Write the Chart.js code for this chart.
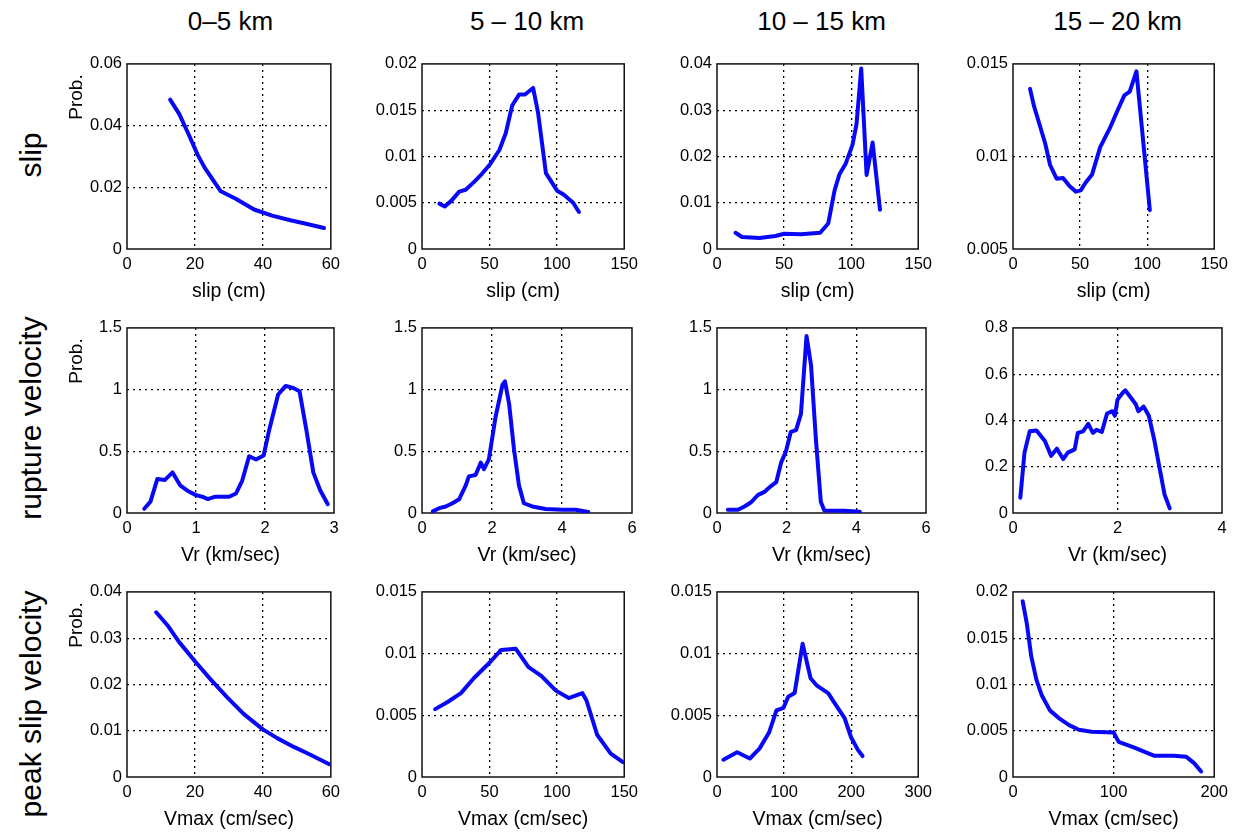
<!DOCTYPE html>
<html>
<head>
<meta charset="utf-8">
<script src="https://cdn.jsdelivr.net/npm/chart.js@4/dist/chart.umd.min.js"></script>
<style>
  html, body { margin: 0; padding: 0; background: #fff; }
  #fig { position: relative; width: 1245px; height: 833px; overflow: hidden; font-family: "Liberation Sans", Arial, sans-serif; color: #000; }
  #fig canvas { position: absolute; }
  .coltitle { position: absolute; top: 6px; font-size: 26px; text-align: center; width: 240px; white-space: nowrap; }
  .rowlabel { position: absolute; font-size: 30px; white-space: nowrap; transform: translate(-50%, -50%) rotate(-90deg); }
  .ylab { position: absolute; font-size: 19px; white-space: nowrap; transform: translate(-50%, -50%) rotate(-90deg); }
</style>
</head>
<body>
<div id="fig"></div>
<script>
// ---- distance bins and parameters ----
const binTitles = ['0–5 km', '5 – 10 km', '10 – 15 km', '15 – 20 km'];
const rowNames = ['slip', 'rupture velocity', 'peak slip velocity'];
const xTitles = ['slip (cm)', 'Vr (km/sec)', 'Vmax (cm/sec)'];

// ---- slip ----
const slip0to5X = [12.7, 15.4, 18.3, 20.8, 22.9, 27.6, 32.0, 37.4, 42.7, 48.1, 53.0, 58.0];
const slip0to5Y = [0.0484, 0.0437, 0.0368, 0.0305, 0.0263, 0.0187, 0.0163, 0.0128, 0.0108, 0.0093, 0.0081, 0.0068];
const slip5to10X = [12.9, 16.9, 21.7, 27.6, 32.4, 38.3, 44.3, 50.2, 57.4, 62.1, 66.9, 72.1, 76.4, 82.4, 86.0, 91.9, 100.2, 105, 112.1, 116.4];
const slip5to10Y = [0.0049, 0.0046, 0.0052, 0.0062, 0.0064, 0.0072, 0.0081, 0.0091, 0.0107, 0.0125, 0.0155, 0.0167, 0.0167, 0.0174, 0.0148, 0.0082, 0.0063, 0.0059, 0.0050, 0.0040];
const slip10to15X = [13.8, 18.6, 31.7, 43.6, 50, 62.6, 76.9, 82.9, 87.6, 91.2, 96, 101, 104, 107.5, 111.5, 116, 121.5];
const slip10to15Y = [0.0035, 0.0026, 0.0024, 0.0028, 0.0033, 0.0032, 0.0035, 0.0055, 0.0126, 0.0161, 0.0185, 0.0225, 0.027, 0.039, 0.016, 0.023, 0.0085];
const slip15to20X = [12.7, 15.6, 20.4, 24.0, 27.6, 32.5, 37.3, 42.1, 46.9, 50.5, 54.1, 58.9, 65, 72, 78, 83, 87, 92, 102];
const slip15to20Y = [0.01365, 0.01273, 0.01158, 0.0107, 0.00955, 0.0088, 0.00884, 0.0084, 0.0081, 0.00817, 0.00858, 0.00902, 0.0105, 0.0115, 0.0125, 0.0133, 0.0135, 0.0146, 0.0071];

// ---- rupture velocity ----
const vr0to5X = [0.25, 0.34, 0.44, 0.55, 0.66, 0.77, 0.89, 1.0, 1.09, 1.17, 1.28, 1.48, 1.58, 1.67, 1.77, 1.87, 1.98, 2.06, 2.19, 2.3, 2.41, 2.5, 2.6, 2.7, 2.8, 2.91];
const vr0to5Y = [0.034, 0.092, 0.276, 0.268, 0.329, 0.224, 0.176, 0.145, 0.132, 0.113, 0.132, 0.132, 0.158, 0.263, 0.46, 0.434, 0.466, 0.671, 0.96, 1.03, 1.013, 0.987, 0.671, 0.329, 0.184, 0.071];
const vr5to10X = [0.31, 0.49, 0.68, 0.87, 1.06, 1.25, 1.34, 1.53, 1.68, 1.77, 1.91, 2.1, 2.3, 2.37, 2.49, 2.63, 2.77, 2.91, 3.15, 3.53, 4.01, 4.39, 4.75];
const vr5to10Y = [0.013, 0.039, 0.053, 0.079, 0.111, 0.224, 0.297, 0.308, 0.408, 0.355, 0.434, 0.776, 1.039, 1.066, 0.882, 0.513, 0.224, 0.079, 0.053, 0.032, 0.026, 0.026, 0.008];
const vr10to15X = [0.31, 0.6, 0.79, 0.98, 1.17, 1.36, 1.55, 1.7, 1.84, 1.98, 2.12, 2.27, 2.41, 2.57, 2.7, 2.84, 2.98, 3.08, 3.65, 4.1];
const vr10to15Y = [0.026, 0.026, 0.053, 0.087, 0.145, 0.171, 0.218, 0.25, 0.408, 0.5, 0.658, 0.671, 0.803, 1.434, 1.197, 0.592, 0.092, 0.021, 0.018, 0.01];
const vr15to20X = [0.14, 0.22, 0.32, 0.45, 0.61, 0.73, 0.84, 0.96, 1.05, 1.18, 1.24, 1.34, 1.44, 1.53, 1.6, 1.7, 1.8, 1.9, 1.95, 2.0, 2.1, 2.15, 2.25, 2.35, 2.4, 2.5, 2.6, 2.7, 2.8, 2.9, 3.0];
const vr15to20Y = [0.066, 0.261, 0.353, 0.357, 0.311, 0.247, 0.278, 0.233, 0.261, 0.275, 0.346, 0.353, 0.385, 0.346, 0.36, 0.35, 0.43, 0.44, 0.42, 0.49, 0.52, 0.53, 0.5, 0.47, 0.44, 0.46, 0.42, 0.32, 0.2, 0.08, 0.02];

// ---- peak slip velocity ----
const vmax0to5X = [8.6, 11.9, 15.3, 20.0, 24.6, 29.5, 34.4, 40.0, 44.2, 49.1, 54.0, 59.4];
const vmax0to5Y = [0.0356, 0.0328, 0.0292, 0.025, 0.0211, 0.0172, 0.0136, 0.0103, 0.0084, 0.0065, 0.0048, 0.0028];
const vmax5to10X = [9.8, 19.3, 28.9, 38.4, 50.4, 58.7, 69.5, 79.0, 88.5, 99.3, 108.8, 118.9, 122, 130, 140, 149];
const vmax5to10Y = [0.0055, 0.0061, 0.0068, 0.0080, 0.0093, 0.0103, 0.0104, 0.0089, 0.0082, 0.0070, 0.0064, 0.0068, 0.0062, 0.0034, 0.0019, 0.0012];
const vmax10to15X = [9.5, 30, 49, 63.3, 77.6, 88.6, 99, 106.2, 115.7, 127.6, 139.5, 149, 165.7, 177.6, 190, 200, 210, 217];
const vmax10to15Y = [0.0014, 0.0020, 0.0015, 0.0023, 0.0036, 0.0054, 0.0056, 0.0065, 0.0068, 0.0108, 0.0080, 0.0074, 0.0068, 0.0058, 0.0048, 0.0032, 0.0022, 0.0017];
const vmax15to20X = [9.6, 13.7, 18.2, 23.3, 28.7, 36.7, 46.3, 55.8, 65.4, 78.1, 100, 105, 120, 140, 160, 172, 180, 187];
const vmax15to20Y = [0.019, 0.0166, 0.013, 0.0105, 0.0088, 0.0072, 0.0063, 0.0056, 0.0051, 0.0049, 0.0048, 0.0038, 0.0032, 0.0023, 0.0023, 0.0022, 0.0015, 0.0006];

// ---- tick labels ----
const slipXTicks0to5 = [0, 20, 40, 60];
const slipXTicks = [0, 50, 100, 150];
const slipYTicks0to5 = [0, 0.02, 0.04, 0.06];
const slipYTicks5to10 = [0, 0.005, 0.01, 0.015, 0.02];
const slipYTicks10to15 = [0, 0.01, 0.02, 0.03, 0.04];
const slipYTicks15to20 = [0.005, 0.01, 0.015];
const vrXTicks0to5 = [0, 1, 2, 3];
const vrXTicks = [0, 2, 4, 6];
const vrXTicks15to20 = [0, 2, 4];
const vrYTicks = [0, 0.5, 1, 1.5];
const vrYTicks15to20 = [0, 0.2, 0.4, 0.6, 0.8];
const vmaxXTicks0to5 = [0, 20, 40, 60];
const vmaxXTicks5to10 = [0, 50, 100, 150];
const vmaxXTicks10to15 = [0, 100, 200, 300];
const vmaxXTicks15to20 = [0, 100, 200];
const vmaxYTicks0to5 = [0, 0.01, 0.02, 0.03, 0.04];
const vmaxYTicks = [0, 0.005, 0.01, 0.015];
const vmaxYTicks15to20 = [0, 0.005, 0.01, 0.015, 0.02];

const panels = [
  [ [slip0to5X, slip0to5Y, slipXTicks0to5, slipYTicks0to5],
    [slip5to10X, slip5to10Y, slipXTicks, slipYTicks5to10],
    [slip10to15X, slip10to15Y, slipXTicks, slipYTicks10to15],
    [slip15to20X, slip15to20Y, slipXTicks, slipYTicks15to20] ],
  [ [vr0to5X, vr0to5Y, vrXTicks0to5, vrYTicks],
    [vr5to10X, vr5to10Y, vrXTicks, vrYTicks],
    [vr10to15X, vr10to15Y, vrXTicks, vrYTicks],
    [vr15to20X, vr15to20Y, vrXTicks15to20, vrYTicks15to20] ],
  [ [vmax0to5X, vmax0to5Y, vmaxXTicks0to5, vmaxYTicks0to5],
    [vmax5to10X, vmax5to10Y, vmaxXTicks5to10, vmaxYTicks],
    [vmax10to15X, vmax10to15Y, vmaxXTicks10to15, vmaxYTicks],
    [vmax15to20X, vmax15to20Y, vmaxXTicks15to20, vmaxYTicks15to20] ]
];

// ---- layout ----
const PLOT_LEFT = [127, 422, 717, 1013];
const PLOT_W = [207, 210, 209, 209];
const PLOT_TOP = [61, 325, 589];
const PLOT_H = 188;
const Y_AXIS_W = 60, X_AXIS_H = 56, PAD = 12;
const ROW_LABEL_Y = [155, 418, 704];
const FONT = '"Liberation Sans", Arial, sans-serif';
const LINE_BLUE = '#0808f6';

// full box around each plot area
const boxFrame = {
  id: 'boxFrame',
  beforeDatasetsDraw(chart) {
    const {ctx, chartArea: a} = chart;
    ctx.save();
    ctx.strokeStyle = '#111';
    ctx.lineWidth = 1.5;
    ctx.strokeRect(a.left, a.top, a.right - a.left, a.bottom - a.top);
    ctx.restore();
  }
};

const fig = document.getElementById('fig');
const fmt = v => String(+(+v).toFixed(6));

function gridColor(ticks) {
  return ctx => (ctx.index === 0 || ctx.index === ticks.length - 1) ? 'rgba(0,0,0,0)' : '#000';
}

function axisOpts(ticks, isX, title) {
  const o = {
    type: 'linear',
    min: ticks[0],
    max: ticks[ticks.length - 1],
    afterBuildTicks: s => { s.ticks = ticks.map(v => ({ value: v })); },
    afterFit: s => { if (isX) s.height = X_AXIS_H; else s.width = Y_AXIS_W; },
    grid: { color: gridColor(ticks), lineWidth: 1.3, drawTicks: false },
    border: { display: false, dash: [2, 4] },
    ticks: {
      autoSkip: false, maxRotation: 0, minRotation: 0,
      padding: isX ? 6 : 5,
      color: '#000',
      font: { family: FONT, size: 16.5 },
      callback: v => fmt(v)
    }
  };
  if (isX) {
    o.title = { display: true, text: title, color: '#000', font: { family: FONT, size: 19.5 }, padding: { top: 0, bottom: 2 } };
  }
  return o;
}

panels.forEach((row, r) => {
  row.forEach((p, c) => {
    const [xs, ys, xt, yt] = p;
    const cv = document.createElement('canvas');
    const w = Y_AXIS_W + PLOT_W[c] + PAD, h = PAD + PLOT_H + X_AXIS_H;
    cv.width = w; cv.height = h;
    cv.style.width = w + 'px'; cv.style.height = h + 'px';
    cv.style.left = (PLOT_LEFT[c] - Y_AXIS_W) + 'px';
    cv.style.top = (PLOT_TOP[r] - PAD) + 'px';
    fig.appendChild(cv);
    new Chart(cv, {
      type: 'line',
      data: {
        datasets: [{
          data: xs.map((x, i) => ({ x, y: ys[i] })),
          borderColor: LINE_BLUE,
          borderWidth: 4,
          pointRadius: 0,
          tension: 0,
          fill: false,
          borderJoinStyle: 'round',
          borderCapStyle: 'round'
        }]
      },
      options: {
        responsive: false,
        animation: false,
        devicePixelRatio: 1,
        layout: { padding: { top: PAD, right: PAD, left: 0, bottom: 0 } },
        plugins: { legend: { display: false }, tooltip: { enabled: false } },
        scales: {
          x: axisOpts(xt, true, xTitles[r]),
          y: axisOpts(yt, false)
        }
      },
      plugins: [boxFrame]
    });
  });
});

// column headings
binTitles.forEach((t, c) => {
  const d = document.createElement('div');
  d.className = 'coltitle';
  d.textContent = t;
  d.style.left = (PLOT_LEFT[c] + PLOT_W[c] / 2 - 120) + 'px';
  fig.appendChild(d);
});

// row headings and probability labels
rowNames.forEach((t, r) => {
  const d = document.createElement('div');
  d.className = 'rowlabel';
  d.textContent = t;
  d.style.left = '31px';
  d.style.top = ROW_LABEL_Y[r] + 'px';
  fig.appendChild(d);
  const y = document.createElement('div');
  y.className = 'ylab';
  y.textContent = 'Prob.';
  y.style.left = '76px';
  y.style.top = (PLOT_TOP[r] + 36) + 'px';
  fig.appendChild(y);
});
</script>
</body>
</html>
